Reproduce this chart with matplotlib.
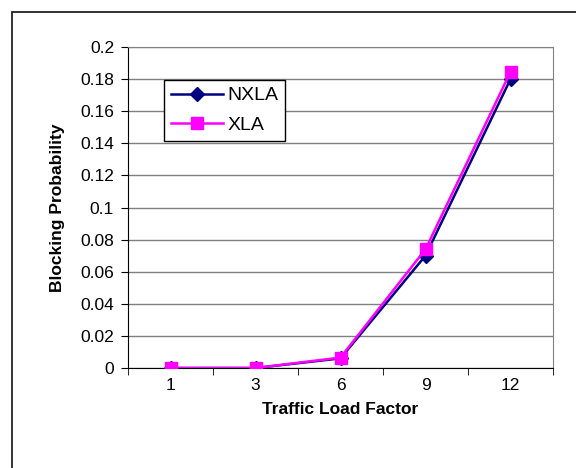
import numpy as np
import matplotlib
matplotlib.use('Agg')
import matplotlib.pyplot as plt
from matplotlib.patches import Rectangle

categories = ['1', '3', '6', '9', '12']
nxla = [0.0, 0.0, 0.006, 0.070, 0.180]
xla = [0.0, 0.0, 0.0065, 0.074, 0.1845]

plt.rcParams['font.family'] = ['Liberation Sans', 'DejaVu Sans']

fig = plt.figure(figsize=(5.76, 4.68), dpi=100)
ax = fig.add_axes([128 / 576, 1 - 368 / 468, (553 - 128) / 576, (368 - 47) / 468])

# outer chart border (only top/left visible in the reference)
fig.patches.append(Rectangle((12 / 576, -0.05), 1.2, 1 - 12 / 468 + 0.05,
                             transform=fig.transFigure, fill=False,
                             edgecolor='#222222', linewidth=1.3))

x = np.arange(len(categories))
ax.plot(x, nxla, color='#000080', marker='D', markersize=7, linewidth=1.8,
        label='NXLA', zorder=3)
ax.plot(x, xla, color='#FF00FF', marker='s', markersize=9, linewidth=1.8,
        label='XLA', zorder=4)

ax.set_xlim(-0.5, len(categories) - 0.5)
ax.set_ylim(0, 0.2)
ax.set_yticks(np.arange(0, 0.201, 0.02))
ax.set_yticklabels(['0', '0.02', '0.04', '0.06', '0.08', '0.1', '0.12',
                    '0.14', '0.16', '0.18', '0.2'])
ax.set_xticks(x)
ax.set_xticklabels(categories)
ax.set_xticks(np.arange(-0.5, len(categories)), minor=True)
ax.tick_params(axis='x', which='major', length=0, labelsize=12.5, pad=7)
ax.tick_params(axis='x', which='minor', length=5, direction='out', color='black')
ax.tick_params(axis='y', length=5, direction='out', labelsize=12.5, pad=5)

ax.grid(axis='y', color='#808080', linewidth=1.0)
ax.set_axisbelow(True)
for side in ['top', 'right']:
    ax.spines[side].set_color('#808080')
for side in ['left', 'bottom']:
    ax.spines[side].set_color('black')

ax.set_xlabel('Traffic Load Factor', fontsize=12.5, fontweight='bold', labelpad=7)
ax.set_ylabel('Blocking Probability', fontsize=12.5, fontweight='bold', labelpad=11)

leg = ax.legend(loc='upper left', bbox_to_anchor=((164 - 128) / 425, (368 - 80) / 321),
                borderaxespad=0, fontsize=14, frameon=True, fancybox=False,
                edgecolor='black', handlelength=2.7, handletextpad=0.2,
                borderpad=0.35, labelspacing=0.6, framealpha=1)
leg.get_frame().set_linewidth(1.0)

fig.savefig('out.png', dpi=100)
